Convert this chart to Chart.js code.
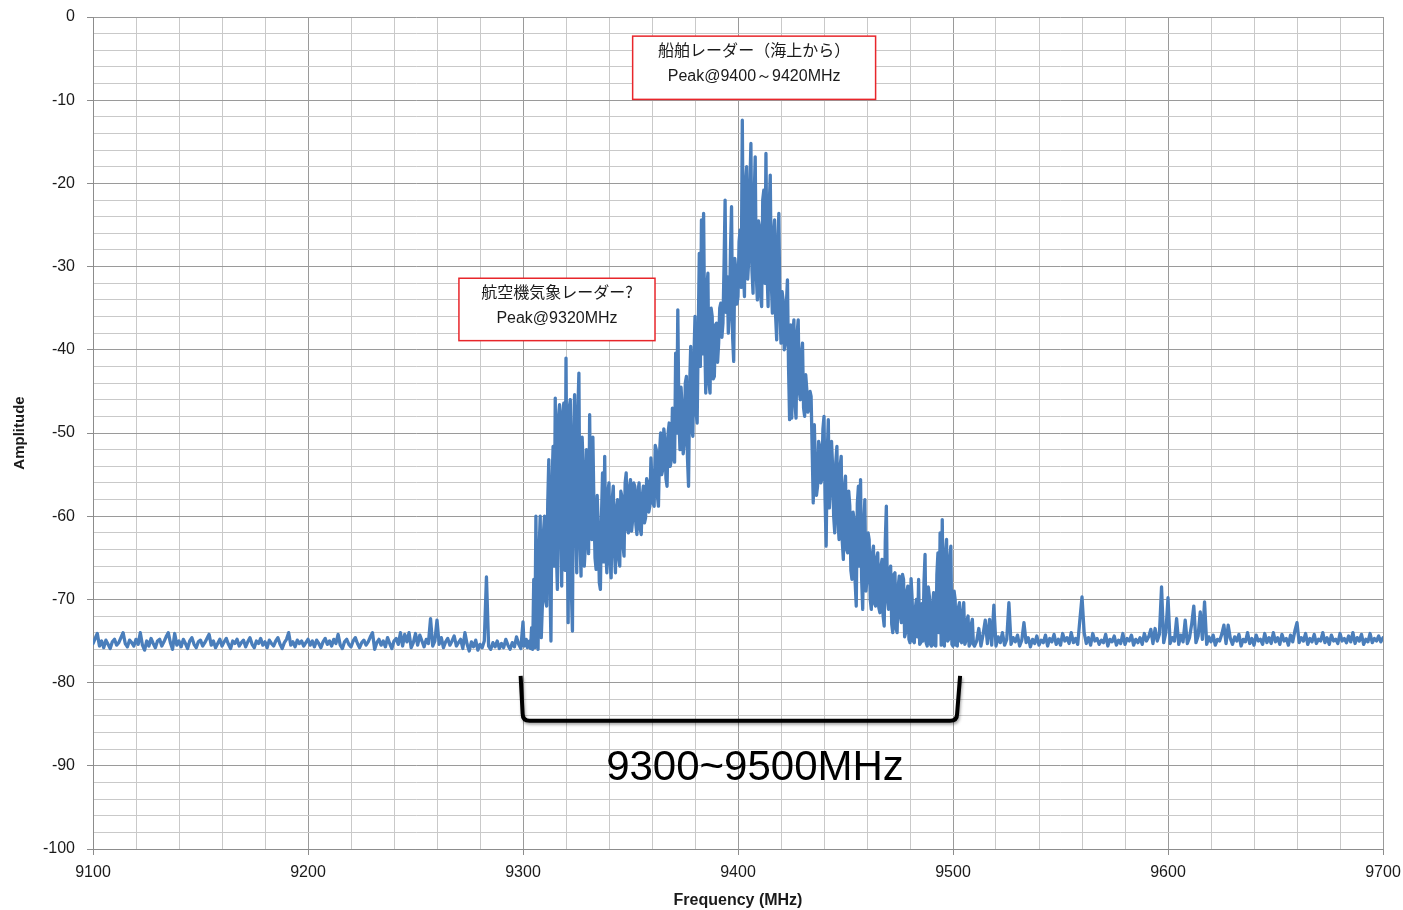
<!DOCTYPE html>
<html>
<head>
<meta charset="utf-8">
<title>X-band radar spectrum</title>
<script src="https://cdn.jsdelivr.net/npm/chart.js@4"></script>
<style>
  html, body { margin: 0; padding: 0; background: #fff; }
  #wrap { width: 1403px; height: 910px; position: relative; }
</style>
</head>
<body>
<div id="wrap"><canvas id="spectrum"></canvas></div>
<script>
// noise floor below the band: one reading per MHz from 9100
const LOW_START = 9100;
const LOW_STEP = 1;
const lowBand = [
  -75.3,-74.7,-74.1,-75.6,-75.0,-75.8,-74.9,-75.4,-75.9,-75.1,
  -74.8,-75.5,-75.2,-74.6,-74.0,-75.3,-75.7,-74.9,-75.2,-75.6,
  -74.8,-75.4,-74.0,-75.5,-76.1,-75.0,-75.6,-74.7,-75.3,-75.8,
  -75.0,-74.8,-75.6,-75.1,-74.5,-74.0,-75.2,-76.0,-74.1,-75.5,
  -75.0,-75.7,-74.8,-75.3,-75.9,-75.0,-74.6,-75.4,-75.8,-75.1,
  -74.9,-75.6,-75.2,-74.7,-74.2,-75.5,-75.0,-75.8,-75.3,-74.8,
  -75.6,-75.1,-74.7,-75.4,-75.9,-75.0,-75.3,-74.8,-75.6,-75.2,
  -74.9,-75.7,-75.1,-74.6,-75.4,-75.8,-75.0,-75.3,-74.7,-75.5,
  -75.1,-75.8,-74.9,-75.3,-75.6,-75.0,-74.6,-75.4,-75.9,-75.2,
  -74.8,-74.0,-75.5,-75.1,-75.7,-74.9,-75.3,-75.0,-75.6,-75.2,
  -74.8,-75.5,-75.0,-75.7,-74.9,-75.3,-75.8,-75.1,-74.7,-75.4,
  -75.0,-75.6,-74.8,-75.3,-74.2,-75.5,-75.9,-75.1,-74.8,-75.4,
  -75.7,-75.0,-74.6,-75.3,-75.8,-75.2,-74.9,-75.5,-75.1,-74.5,
  -74.0,-76.0,-75.2,-74.8,-75.5,-75.0,-75.7,-74.6,-75.3,-75.9,
  -75.0,-74.7,-75.4,-74.0,-75.6,-74.2,-75.1,-74.0,-75.8,-75.2,
  -74.1,-75.5,-74.3,-75.0,-75.7,-74.8,-75.3,-72.3,-75.6,-75.0,
  -72.5,-75.4,-74.6,-75.8,-75.1,-74.7,-75.5,-75.0,-74.4,-75.6,
  -75.2,-74.8,-75.9,-74.0,-75.4,-76.2,-75.1,-75.7,-74.9,-76.1,
  -75.4,-75.8,-75.0,-67.3,-75.6,-76.0,-75.2,-75.7,-75.0,-75.9,
  -75.3,-75.8,-74.8,-75.5,-76.0,-75.2,-75.7,-74.5,-75.4,-75.9
];

// radar band: one reading per 0.5 MHz from 9300 to 9510
const RADAR_START = 9300;
const RADAR_STEP = 0.5;
const radarBand = [
  -72.7,-75.6,-75.5,-74.8,-75.8,-75.1,-75.0,-75.9,-73.4,-76.0,
  -67.6,-75.8,-60.0,-72.4,-76.0,-64.0,-60.0,-74.6,-70.8,-62.0,
  -60.0,-70.2,-70.8,-58.5,-53.2,-68.0,-75.0,-56.0,-51.6,-66.0,
  -45.8,-64.2,-68.8,-48.0,-46.6,-62.0,-68.4,-47.5,-46.4,-66.5,
  -41.0,-60.0,-72.8,-47.0,-46.0,-69.0,-73.8,-50.0,-45.4,-60.5,
  -66.8,-47.5,-42.8,-63.0,-67.2,-50.5,-54.0,-66.0,-63.6,-52.0,
  -55.6,-64.5,-47.8,-61.5,-62.8,-50.5,-58.8,-65.0,-66.4,-57.5,
  -61.2,-68.0,-68.8,-60.0,-54.8,-65.5,-52.8,-64.0,-66.8,-57.0,
  -56.0,-65.5,-67.4,-58.0,-56.4,-64.0,-66.8,-59.0,-58.0,-65.0,
  -66.0,-57.0,-57.6,-63.5,-64.8,-56.0,-54.8,-61.5,-62.0,-56.5,
  -55.6,-61.8,-60.4,-56.0,-56.4,-61.0,-62.2,-57.0,-56.0,-61.5,
  -62.2,-57.5,-56.4,-60.8,-60.2,-55.5,-56.0,-59.5,-58.8,-53.0,
  -55.6,-58.5,-58.8,-51.5,-52.0,-57.5,-58.8,-52.5,-50.0,-55.0,
  -54.4,-49.5,-50.8,-55.5,-56.4,-50.0,-48.8,-54.0,-53.2,-47.0,
  -47.2,-53.5,-40.4,-50.0,-35.2,-48.0,-52.0,-44.5,-46.8,-52.5,
  -51.2,-44.0,-43.2,-53.0,-56.4,-44.5,-39.6,-49.5,-50.4,-41.0,
  -36.0,-47.5,-48.8,-38.0,-28.4,-42.0,-24.4,-40.5,-23.6,-38.0,
  -45.2,-32.5,-30.8,-44.0,-45.2,-35.0,-36.0,-43.5,-43.2,-37.0,
  -36.8,-41.5,-39.2,-35.0,-34.4,-38.5,-36.8,-30.0,-22.0,-35.5,
  -31.2,-38.0,-36.0,-28.0,-22.8,-38.5,-41.4,-29.0,-30.4,-34.5,
  -33.6,-27.0,-25.6,-32.5,-12.4,-30.0,-33.6,-20.0,-18.0,-31.5,
  -29.2,-20.5,-15.2,-30.5,-33.2,-22.0,-16.8,-31.0,-34.0,-24.5,
  -25.2,-33.5,-34.8,-22.0,-20.8,-32.0,-16.4,-30.5,-34.8,-23.0,
  -19.0,-32.0,-35.6,-26.0,-24.4,-36.0,-38.8,-27.0,-23.6,-35.5,
  -39.2,-33.0,-34.0,-40.0,-39.2,-34.5,-31.6,-42.0,-48.4,-37.0,
  -48.2,-38.5,-36.4,-46.5,-48.2,-38.0,-36.4,-45.0,-46.0,-40.5,
  -39.2,-47.0,-48.0,-43.0,-44.8,-47.5,-46.8,-45.0,-45.6,-52.0,
  -58.4,-49.0,-54.0,-57.5,-56.4,-51.0,-51.6,-56.0,-55.6,-49.5,
  -48.0,-58.0,-63.6,-52.5,-48.4,-59.0,-56.4,-51.0,-54.0,-60.0,
  -62.0,-53.5,-51.6,-60.5,-62.8,-54.0,-52.8,-63.0,-65.2,-56.5,
  -55.2,-64.0,-64.4,-57.0,-58.8,-66.5,-67.6,-59.5,-60.4,-68.0,
  -70.8,-58.5,-56.4,-66.0,-55.6,-67.5,-71.2,-61.0,-58.0,-69.0,
  -67.6,-62.0,-62.8,-70.0,-71.2,-64.5,-63.6,-70.5,-70.8,-65.0,
  -64.4,-71.0,-71.6,-66.0,-65.2,-72.0,-73.2,-63.0,-58.8,-70.0,
  -71.2,-66.5,-66.0,-73.0,-74.0,-67.0,-66.8,-73.5,-74.0,-68.5,
  -67.2,-72.0,-72.8,-67.0,-67.6,-74.5,-74.0,-69.0,-68.4,-74.8,
  -75.2,-67.5,-70.0,-75.0,-75.2,-71.0,-70.0,-74.5,-67.6,-75.4,
  -75.2,-70.5,-75.0,-68.0,-64.6,-75.2,-75.6,-68.5,-69.6,-75.4,
  -75.6,-70.5,-69.2,-75.5,-75.6,-67.0,-64.4,-74.0,-62.0,-75.5,
  -60.4,-72.0,-75.6,-64.5,-62.8,-75.0,-74.8,-65.0,-63.6,-75.4,
  -75.6,-69.0,-70.0,-75.5,-75.6,-71.0,-70.4,-75.0,-75.2,-71.5,
  -70.4,-75.4,-75.0,-72.5,-72.0,-75.6,-75.3,-73.0,-72.4,-75.4,
  -75.6
];

// noise floor above the band: one reading per MHz from 9511
const HIGH_START = 9511;
const HIGH_STEP = 1;
const highBand = [
  -75.0,-73.5,-75.6,-74.2,-72.5,-75.3,-72.4,-75.5,-70.7,-75.6,
  -74.5,-75.2,-74.0,-75.5,-74.8,-70.4,-75.4,-74.6,-75.1,-74.3,
  -75.6,-74.9,-72.8,-75.2,-74.6,-75.7,-74.8,-75.3,-74.4,-75.5,
  -74.9,-75.2,-74.3,-75.6,-74.7,-75.1,-74.2,-75.4,-74.8,-75.5,
  -74.1,-75.0,-74.6,-75.3,-74.0,-75.2,-74.7,-75.4,-72.5,-69.7,
  -74.0,-75.3,-74.6,-75.5,-74.1,-75.0,-74.7,-75.4,-74.9,-75.2,
  -74.2,-75.6,-74.8,-75.1,-74.4,-75.5,-74.9,-75.3,-74.1,-75.4,
  -74.7,-75.0,-74.3,-75.5,-74.8,-75.2,-74.6,-75.4,-74.1,-75.0,
  -74.5,-73.6,-75.3,-73.5,-75.0,-74.2,-68.5,-75.2,-74.0,-69.8,
  -75.3,-74.6,-75.0,-72.3,-75.4,-74.3,-75.1,-72.5,-75.3,-74.6,
  -73.0,-70.8,-75.2,-74.4,-71.5,-74.8,-70.3,-75.4,-74.5,-75.1,
  -74.3,-75.5,-74.8,-75.0,-74.2,-73.1,-75.3,-73.1,-74.7,-75.4,
  -74.5,-75.0,-74.2,-75.6,-74.8,-75.1,-74.0,-75.3,-74.7,-75.5,
  -74.3,-75.0,-74.8,-75.4,-74.1,-75.2,-74.6,-75.3,-74.0,-75.1,
  -74.6,-75.4,-74.2,-75.0,-74.7,-75.5,-74.3,-75.1,-73.8,-72.8,
  -75.2,-74.6,-75.0,-74.1,-75.4,-74.7,-75.1,-74.2,-75.3,-74.8,
  -75.0,-74.0,-75.2,-74.6,-75.4,-74.3,-75.0,-74.8,-75.3,-74.1,
  -75.0,-74.7,-75.2,-74.4,-75.1,-74.0,-75.3,-74.6,-75.0,-74.2,
  -75.4,-74.8,-75.1,-74.1,-75.2,-74.7,-75.0,-74.4,-75.1,-74.6
];

// labelled ticks (grid runs every 20 MHz / 2 units)
const xLabelValues = [9100, 9200, 9300, 9400, 9500, 9600, 9700];
const yLabelValues = [0, -10, -20, -30, -40, -50, -60, -70, -80, -90, -100];

// callouts, placed in data units
const notes = [
  { title: "船舶レーダー（海上から）", peak: "Peak@9400～9420MHz", from: 9351, to: 9464, top: -2.3, bottom: -9.9 },
  { title: "航空機気象レーダー?", peak: "Peak@9320MHz", from: 9270.2, to: 9361.4, top: -31.4, bottom: -38.9 }
];
const bracket = { from: 9298.9, to: 9503.3, top: -79.2, bottom: -84.6, label: "9300~9500MHz", labelX: 9407.9, labelY: -90.3 };

function toPoints(values, start, step) {
  return values.map((a, i) => ({ x: start + i * step, y: a }));
}
const points = toPoints(lowBand, LOW_START, LOW_STEP)
  .concat(toPoints(radarBand, RADAR_START, RADAR_STEP))
  .concat(toPoints(highBand, HIGH_START, HIGH_STEP));

const MAJOR_GRID = "#9a9a9a";
const MINOR_GRID = "#c9c9c9";
const TEXT = "#1a1a1a";

const notesPlugin = {
  id: "notes",
  afterDatasetsDraw(chart) {
    const ctx = chart.ctx;
    const xs = chart.scales.x;
    const ys = chart.scales.y;
    ctx.save();

    notes.forEach(function (n) {
      const l = xs.getPixelForValue(n.from);
      const r = xs.getPixelForValue(n.to);
      const t = ys.getPixelForValue(n.top);
      const b = ys.getPixelForValue(n.bottom);
      ctx.fillStyle = "#fff";
      ctx.fillRect(l, t, r - l, b - t);
      ctx.strokeStyle = "#e8262b";
      ctx.lineWidth = 1.5;
      ctx.strokeRect(l, t, r - l, b - t);
      ctx.fillStyle = TEXT;
      ctx.textAlign = "center";
      ctx.textBaseline = "middle";
      ctx.font = '16px "Noto Sans CJK JP"';
      ctx.fillText(n.title, (l + r) / 2, t + 14);
      ctx.font = '16px "Liberation Sans"';
      ctx.fillText(n.peak, (l + r) / 2, t + 40);
    });

    // bracket under the radar band
    const bl = xs.getPixelForValue(bracket.from);
    const br = xs.getPixelForValue(bracket.to);
    const bt = ys.getPixelForValue(bracket.top);
    const bb = ys.getPixelForValue(bracket.bottom);
    ctx.shadowColor = "rgba(0,0,0,0.35)";
    ctx.shadowBlur = 3;
    ctx.shadowOffsetX = 1;
    ctx.shadowOffsetY = 2;
    ctx.strokeStyle = "#000";
    ctx.lineWidth = 4;
    ctx.lineJoin = "round";
    ctx.beginPath();
    ctx.moveTo(bl, bt);
    ctx.lineTo(bl + 2, bb - 7);
    ctx.quadraticCurveTo(bl + 2, bb, bl + 9, bb);
    ctx.lineTo(br - 10, bb);
    ctx.quadraticCurveTo(br - 3, bb, br - 3, bb - 7);
    ctx.lineTo(br, bt);
    ctx.stroke();

    ctx.shadowColor = "rgba(0,0,0,0)";
    ctx.fillStyle = "#000";
    ctx.font = '42px "Liberation Sans"';
    ctx.textAlign = "center";
    ctx.textBaseline = "middle";
    ctx.fillText(bracket.label, xs.getPixelForValue(bracket.labelX), ys.getPixelForValue(bracket.labelY));
    ctx.restore();
  }
};

new Chart(document.getElementById("spectrum"), {
  type: "line",
  data: {
    datasets: [
      {
        label: "Amplitude",
        data: points,
        borderColor: "#4a7ebb",
        borderWidth: 3.3,
        pointRadius: 0,
        tension: 0,
        borderJoinStyle: "round",
        borderCapStyle: "round",
        fill: false,
      },
    ],
  },
  options: {
    responsive: true,
    maintainAspectRatio: false,
    animation: false,
    devicePixelRatio: 1,
    layout: { padding: { top: 17, right: 20, left: 0, bottom: 0 } },
    plugins: {
      legend: { display: false },
      tooltip: { enabled: false },
    },
    scales: {
      x: {
        type: "linear",
        min: 9100,
        max: 9700,
        ticks: {
          stepSize: 20,
          autoSkip: false,
          maxRotation: 0,
          minRotation: 0,
          padding: 8,
          color: TEXT,
          font: { family: "Liberation Sans", size: 16 },
          callback: function (value) {
            return xLabelValues.includes(value) ? String(value) : "";
          },
        },
        grid: {
          color: function (context) {
            if (!context.tick) return MINOR_GRID;
            return context.tick.value % 100 === 0 ? MAJOR_GRID : MINOR_GRID;
          },
          lineWidth: 1,
          tickLength: 6,
          tickColor: function (context) {
            return context.tick && context.tick.value % 100 === 0 ? "#8c8c8c" : "rgba(0,0,0,0)";
          },
        },
        border: { color: "#8c8c8c" },
        title: {
          display: true,
          text: "Frequency (MHz)",
          color: TEXT,
          font: { family: "Liberation Sans", size: 16, weight: "bold" },
          padding: { top: 0, bottom: 0 },
        },
        afterFit: function (scale) {
          scale.height = 61;
          scale.paddingLeft = 0;
          scale.paddingRight = 0;
        },
      },
      y: {
        min: -100,
        max: 0,
        ticks: {
          stepSize: 2,
          autoSkip: false,
          padding: 12,
          color: TEXT,
          font: { family: "Liberation Sans", size: 16 },
          callback: function (value) {
            return yLabelValues.includes(value) ? String(value) : "";
          },
        },
        grid: {
          color: function (context) {
            if (!context.tick) return MINOR_GRID;
            return context.tick.value % 10 === 0 ? MAJOR_GRID : MINOR_GRID;
          },
          lineWidth: 1,
          tickLength: 6,
          tickColor: function (context) {
            return context.tick && context.tick.value % 10 === 0 ? "#8c8c8c" : "rgba(0,0,0,0)";
          },
        },
        border: { color: "#8c8c8c" },
        title: {
          display: true,
          text: "Amplitude",
          color: TEXT,
          font: { family: "Liberation Sans", size: 15, weight: "bold" },
          padding: { top: 11, bottom: 0 },
        },
        afterFit: function (scale) {
          scale.width = 93;
          scale.paddingTop = 0;
          scale.paddingBottom = 0;
        },
      },
    },
  },
  plugins: [notesPlugin],
});
</script>
</body>
</html>
